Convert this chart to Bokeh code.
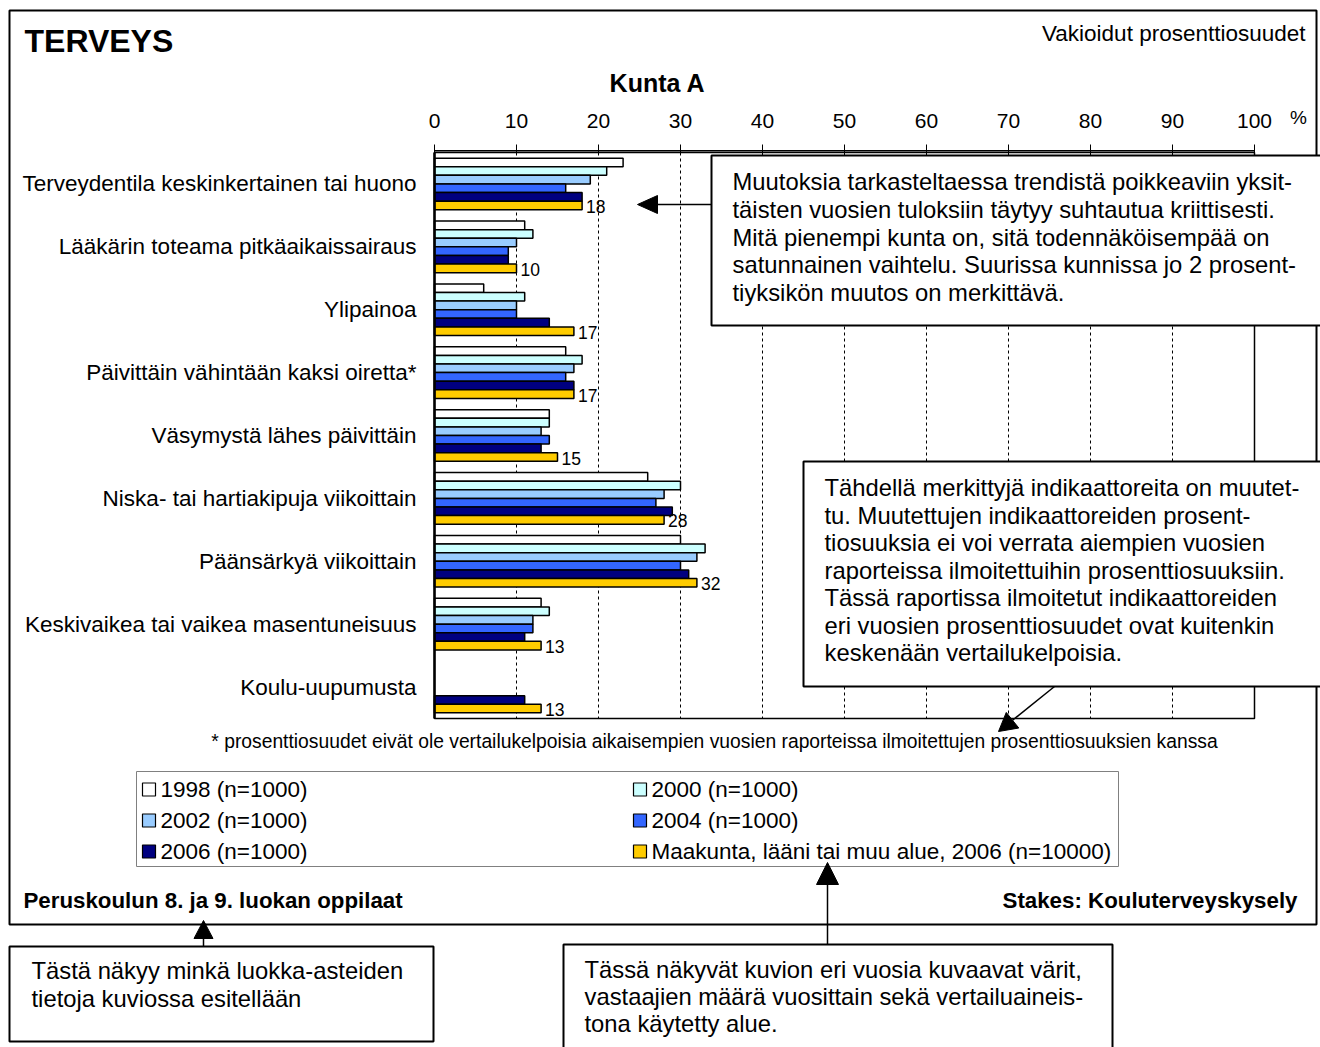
from bokeh.plotting import figure
from bokeh.models import Range1d
from bokeh.embed import file_html
from bokeh.resources import INLINE
from bokeh.core.properties import value

# ---------------- data ----------------
categories = [
    "Terveydentila keskinkertainen tai huono",
    "Lääkärin toteama pitkäaikaissairaus",
    "Ylipainoa",
    "Päivittäin vähintään kaksi oiretta*",
    "Väsymystä lähes päivittäin",
    "Niska- tai hartiakipuja viikoittain",
    "Päänsärkyä viikoittain",
    "Keskivaikea tai vaikea masentuneisuus",
    "Koulu-uupumusta",
]
series_names = [
    "1998 (n=1000)",
    "2000 (n=1000)",
    "2002 (n=1000)",
    "2004 (n=1000)",
    "2006 (n=1000)",
    "Maakunta, lääni tai muu alue, 2006 (n=10000)",
]
v1998 = [23, 11, 6, 16, 14, 26, 30, 13, None]
v2000 = [21, 12, 11, 18, 14, 30, 33, 14, None]
v2002 = [19, 10, 10, 17, 13, 28, 32, 12, None]
v2004 = [16, 9, 10, 16, 14, 27, 30, 12, None]
v2006 = [18, 9, 14, 17, 13, 29, 31, 11, 11]
vregion = [18, 10, 17, 17, 15, 28, 32, 13, 13]
series_values = [v1998, v2000, v2002, v2004, v2006, vregion]
colors = ["#FFFFFF", "#CCFFFF", "#99CCFF", "#3366FF", "#000080", "#FFCC00"]
x_ticks = [0, 10, 20, 30, 40, 50, 60, 70, 80, 90, 100]

FONT = value("Liberation Sans")

# ---------------- layout (page pixels) ----------------
W, H = 1320, 1047
X0, X100 = 434, 1254          # plot area horizontal extent
Y_TOP, Y_BOT = 152, 718       # plot area vertical extent
PXU = (X100 - X0) / 100.0
GH = (Y_BOT - Y_TOP) / len(categories)
BAR_H = 8.6 / GH

p = figure(width=W, height=H, x_range=Range1d(0, W), y_range=Range1d(H, 0),
           output_backend="svg", toolbar_location=None,
           x_axis_location=None, y_axis_location=None, min_border=0)
p.outline_line_color = None
p.grid.visible = False
p.background_fill_color = "white"
p.border_fill_color = "white"
p.extra_x_ranges = {"pct": Range1d(-X0 / PXU, (W - X0) / PXU)}
p.extra_y_ranges = {"grp": Range1d((H - Y_TOP) / GH, -Y_TOP / GH)}

def txt(x, y, s, size="20px", align="left", style="normal", color="black", baseline="middle"):
    p.text(x=[x], y=[y], text=[s], text_font=FONT, text_font_size=size,
           text_align=align, text_baseline=baseline, text_font_style=style,
           text_color=color)

# outer frame
p.quad(left=[9], right=[1316], top=[10], bottom=[924], fill_color=None,
       line_color="black", line_width=2)

# titles
txt(24, 40, "TERVEYS", size="32px", style="bold")
txt(1305, 33, "Vakioidut prosenttiosuudet", size="22.5px", align="right")
txt(657, 82, "Kunta A", size="25px", style="bold", align="center")

# gridlines
grid_x = [t for t in x_ticks if 0 < t < 100]
p.segment(x0=grid_x, x1=grid_x, y0=[0] * len(grid_x), y1=[len(categories)] * len(grid_x),
          x_range_name="pct", y_range_name="grp", line_color="black",
          line_width=1, line_dash="3 3")

# bars
for j, (vals, col) in enumerate(zip(series_values, colors)):
    ys, rs = [], []
    for i, v in enumerate(vals):
        if v is None:
            continue
        ys.append(i + 0.5 + (j - 2.5) * BAR_H)
        rs.append(v)
    p.hbar(y=ys, left=0, right=rs, height=BAR_H, fill_color=col,
           line_color="black", line_width=1.5,
           x_range_name="pct", y_range_name="grp")

# value labels for regional series
lab_y = [i + 0.5 + 2.5 * BAR_H for i in range(len(categories))]
p.text(x=vregion, y=lab_y, text=[str(v) for v in vregion], x_offset=4, y_offset=1,
       text_font=FONT, text_font_size="17.5px", text_baseline="middle",
       x_range_name="pct", y_range_name="grp")

# plot area border
p.quad(left=[0], right=[100], top=[0], bottom=[len(categories)], fill_color=None,
       line_color="black", line_width=1.5, x_range_name="pct", y_range_name="grp")
p.segment(x0=[0], x1=[0], y0=[0], y1=[len(categories)], line_color="black",
          line_width=2.5, x_range_name="pct", y_range_name="grp")

# top axis
ax_y = -1.8 / GH
p.segment(x0=[0], x1=[100], y0=[ax_y], y1=[ax_y], line_color="black", line_width=1.5,
          x_range_name="pct", y_range_name="grp")
p.segment(x0=x_ticks, x1=x_ticks, y0=[-8 / GH] * len(x_ticks), y1=[0] * len(x_ticks),
          line_color="black", line_width=1, x_range_name="pct", y_range_name="grp")
p.text(x=x_ticks, y=[-32 / GH] * len(x_ticks), text=[str(t) for t in x_ticks],
       text_font=FONT, text_font_size="21px", text_align="center",
       text_baseline="middle", x_range_name="pct", y_range_name="grp")
txt(1298, 117, "%", size="19px", align="center")

# category labels
p.text(x=[-18 / PXU] * len(categories), y=[i + 0.5 for i in range(len(categories))],
       text=categories, text_font=FONT, text_font_size="22.5px", text_align="right",
       text_baseline="middle", x_range_name="pct", y_range_name="grp")

# footnote
txt(714, 741, "* prosenttiosuudet eivät ole vertailukelpoisia aikaisempien vuosien "
    "raporteissa ilmoitettujen prosenttiosuuksien kanssa", size="19.3px", align="center")

# legend
p.quad(left=[136], right=[1118], top=[771], bottom=[866], fill_color="white",
       line_color="#808080", line_width=1)
leg_x = [142, 633]
leg_y = [789, 820, 851]
for k, (name, col) in enumerate(zip(series_names, colors)):
    cx = leg_x[k % 2]
    cy = leg_y[k // 2]
    p.quad(left=[cx], right=[cx + 13], top=[cy - 6.5], bottom=[cy + 6.5],
           fill_color=col, line_color="black", line_width=1.2)
    txt(cx + 18, cy, name, size="22.5px")

# footer
txt(23, 900, "Peruskoulun 8. ja 9. luokan oppilaat", size="22.3px", style="bold")
txt(1297, 900, "Stakes: Kouluterveyskysely", size="22.3px", style="bold", align="right")

# annotation boxes
def box(l, r, t, b):
    p.quad(left=[l], right=[r], top=[t], bottom=[b], fill_color="white",
           line_color="black", line_width=2)

def arrow(x0, y0, x1, y1, hl, hw):
    dx, dy = x1 - x0, y1 - y0
    L = (dx * dx + dy * dy) ** 0.5
    ux, uy = dx / L, dy / L
    bx, by = x1 - ux * hl, y1 - uy * hl
    p.segment(x0=[x0], y0=[y0], x1=[bx], y1=[by], line_color="black", line_width=1.5)
    nx, ny = -uy, ux
    p.patch(x=[x1, bx + nx * hw / 2, bx - nx * hw / 2],
            y=[y1, by + ny * hw / 2, by - ny * hw / 2],
            fill_color="black", line_color="black", line_width=1)

BOX_FS = "23.8px"

box(711, 1322, 155, 325)
for k, s in enumerate([
        "Muutoksia tarkasteltaessa trendistä poikkeaviin yksit-",
        "täisten vuosien tuloksiin täytyy suhtautua kriittisesti.",
        "Mitä pienempi kunta on, sitä todennäköisempää on",
        "satunnainen vaihtelu. Suurissa kunnissa jo 2 prosent-",
        "tiyksikön muutos on merkittävä."]):
    txt(732, 181 + k * 27.8, s, size=BOX_FS)
arrow(711, 204, 637, 204, 20, 18)

box(803, 1322, 461, 686)
for k, s in enumerate([
        "Tähdellä merkittyjä indikaattoreita on muutet-",
        "tu. Muutettujen indikaattoreiden prosent-",
        "tiosuuksia ei voi verrata aiempien vuosien",
        "raporteissa ilmoitettuihin prosenttiosuuksiin.",
        "Tässä raportissa ilmoitetut indikaattoreiden",
        "eri vuosien prosenttiosuudet ovat kuitenkin",
        "keskenään vertailukelpoisia."]):
    txt(824, 487 + k * 27.5, s, size=BOX_FS)
arrow(1054, 686, 998, 731, 18, 20)

box(9, 433, 946, 1041)
txt(31, 970, "Tästä näkyy minkä luokka-asteiden", size=BOX_FS)
txt(31, 998, "tietoja kuviossa esitellään", size=BOX_FS)
arrow(203, 946, 203, 920, 18, 19)

box(563, 1112, 944, 1060)
for k, s in enumerate([
        "Tässä näkyvät kuvion eri vuosia kuvaavat värit,",
        "vastaajien määrä vuosittain sekä vertailuaineis-",
        "tona käytetty alue."]):
    txt(584, 969 + k * 27, s, size=BOX_FS)
arrow(827, 944, 827, 862, 22, 22)

open("out.html", "w").write(file_html(p, INLINE))
